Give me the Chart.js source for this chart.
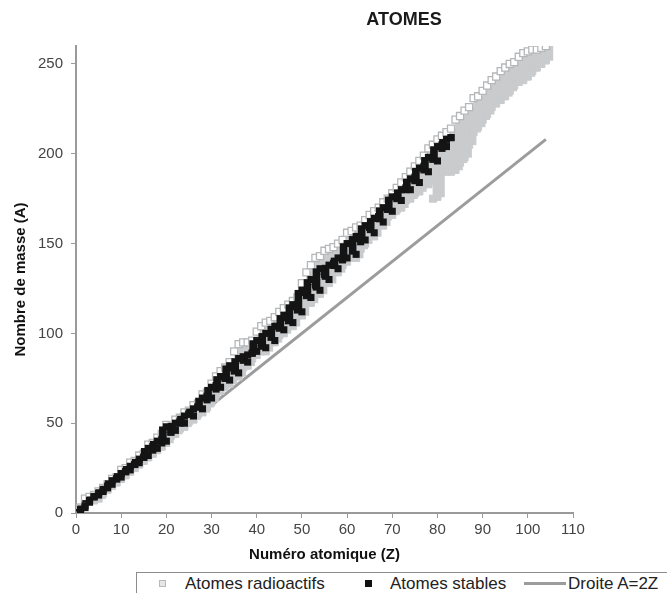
<!DOCTYPE html>
<html>
<head>
<meta charset="utf-8">
<script src="https://cdn.jsdelivr.net/npm/chart.js@4/dist/chart.umd.min.js"></script>
<style>
  html, body { margin: 0; padding: 0; background: #fff; overflow: hidden; }
  #wrap { position: relative; width: 667px; height: 593px; }
  #legend { position: absolute; left: 136px; top: 572px; width: 560px; height: 40px; border: 1px solid #8c8c8c; background: #fff;
            font-family: "Liberation Sans", Arial, sans-serif; font-size: 17px; color: #222; }
  #legend span { position: absolute; top: 1px; line-height: 20px; white-space: nowrap; }
  .sq1 { position: absolute; left: 22px; top: 7px; width: 5px; height: 5px; border: 1px solid #b8b8b8; background: #e6e6e6; }
  .sq2 { position: absolute; left: 228px; top: 7px; width: 7px; height: 7px; background: #111; }
  .ln  { position: absolute; left: 387px; top: 9px; width: 42px; height: 3px; background: #9c9c9c; }
</style>
</head>
<body>
<div id="wrap">
  <canvas id="c" width="667" height="593"></canvas>
  <div id="legend">
    <div class="sq1"></div><span style="left:48px">Atomes radioactifs</span>
    <div class="sq2"></div><span style="left:253px">Atomes stables</span>
    <div class="ln"></div><span style="left:431px">Droite A=2Z</span>
  </div>
</div>
<script>
// Atomic numbers (Z)
const atomicNumbers = [
  1,2,3,4,5,6,7,8,9,10,
  11,12,13,14,15,16,17,18,19,20,
  21,22,23,24,25,26,27,28,29,30,
  31,32,33,34,35,36,37,38,39,40,
  41,42,43,44,45,46,47,48,49,50,
  51,52,53,54,55,56,57,58,59,60,
  61,62,63,64,65,66,67,68,69,70,
  71,72,73,74,75,76,77,78,79,80,
  81,82,83,84,85,86,87,88,89,90,
  91,92,93,94,95,96,97,98,99,100,
  101,102,103,104
];
// Stable atoms: lowest and highest mass number (A) per Z (null = none)
const stableMin = [
  1,3,6,9,10,12,14,16,19,20,
  23,24,27,28,31,32,35,36,39,40,
  45,46,50,50,55,54,59,58,63,64,
  69,70,75,74,79,78,85,84,89,90,
  93,92,null,96,103,102,107,106,113,112,
  121,120,127,124,133,130,138,136,141,142,
  null,144,151,152,159,156,165,162,169,168,
  175,174,180,180,185,184,191,190,197,196,
  203,204,209,null,null,null,null,null,null,null,
  null,null,null,null,null,null,null,null,null,null,
  null,null,null,null
];
const stableMax = [
  2,4,7,9,11,13,15,18,19,22,
  23,26,27,30,31,36,37,40,41,48,
  45,50,51,54,55,58,59,64,65,70,
  71,76,75,82,81,86,87,88,89,96,
  93,100,null,104,103,110,109,116,115,124,
  123,130,127,136,133,138,139,142,141,150,
  null,154,153,160,159,164,165,170,169,176,
  176,180,181,186,187,192,193,198,197,204,
  205,208,209,null,null,null,null,null,null,null,
  null,null,null,null,null,null,null,null,null,null,
  null,null,null,null
];
// Radioactive atoms: lowest and highest mass number (A) per Z
const radioMin = [
  3,6,8,7,8,11,13,15,17,19,
  21,23,25,27,29,31,33,35,37,39,
  43,44,47,48,51,52,55,56,59,62,
  66,68,71,72,76,76,81,82,86,88,
  90,90,95,95,99,100,104,104,110,110,
  117,117,123,122,129,128,135,134,138,140,
  143,142,147,150,155,154,161,160,165,166,
  169,170,174,175,178,179,183,183,175,176,
  190,190,190,191,195,198,205,212,215,219,
  222,226,228,230,232,235,238,240,241,243,
  246,248,250,252
];
const radioMax = [
  3,8,9,10,12,14,16,19,20,24,
  25,28,29,32,33,38,39,42,44,49,
  48,52,53,56,57,60,61,66,67,72,
  76,79,81,84,90,94,95,95,96,101,
  104,106,107,109,112,114,116,118,120,128,
  134,138,142,143,146,147,148,150,152,156,
  157,159,160,163,166,168,170,173,175,178,
  181,184,187,190,193,196,199,203,205,208,
  210,212,214,219,221,224,226,231,232,235,
  238,241,243,246,248,250,251,254,256,257,
  258,258,259,260
];
// Line A = 2Z (end points)
const lineZ = [0, 104];
const lineA = [0, 208];

const xTicks = [0,10,20,30,40,50,60,70,80,90,100,110];
const yTicks = [0,50,100,150,200,250];

const radioBars = atomicNumbers.map((z,i) => ({x: z, y: [radioMin[i], radioMax[i]]}));
const radioLow  = atomicNumbers.map((z,i) => ({x: z, y: radioMin[i]}));
const radioHigh = atomicNumbers.map((z,i) => ({x: z, y: radioMax[i]}));
const stableBars = atomicNumbers.map((z,i) => ({x: z, y: [stableMin[i], stableMax[i]]})).filter((d,i) => stableMin[i] !== null);
const stableEnds = [];
atomicNumbers.forEach((z,i) => {
  if (stableMin[i] !== null) { stableEnds.push({x: z, y: stableMin[i]}); stableEnds.push({x: z, y: stableMax[i]}); }
});
const lineData = lineZ.map((z,i) => ({x: z, y: lineA[i]}));

const GRAY = '#c9cbcd';
const FONT = '"Liberation Sans", Arial, sans-serif';
const titlePlugin = {
  id: 'titleText',
  afterDraw(chart) {
    const ctx = chart.ctx;
    ctx.save();
    ctx.font = 'bold 18px ' + FONT;
    ctx.fillStyle = '#1a1a1a';
    ctx.textAlign = 'center';
    ctx.textBaseline = 'middle';
    ctx.fillText('ATOMES', 404, 20);
    ctx.restore();
  }
};

new Chart(document.getElementById('c'), {
  type: 'bar',
  data: {
    datasets: [
      { type: 'line', label: 'Droite A=2Z', data: lineData, borderColor: '#9c9c9c', borderWidth: 3, pointRadius: 0, order: 6 },
      { type: 'bar', label: 'radio', data: radioBars, backgroundColor: GRAY, borderWidth: 0, barThickness: 7, order: 5 },
      { type: 'scatter', label: 'radioLow', data: radioLow, pointStyle: 'rect', pointRadius: 5, backgroundColor: GRAY, borderColor: GRAY, borderWidth: 1, order: 4 },
      { type: 'scatter', label: 'Atomes radioactifs', data: radioHigh, pointStyle: 'rect', pointRadius: 5, backgroundColor: '#ffffff', borderColor: '#b4b6b8', borderWidth: 1.3, order: 3 },
      { type: 'bar', label: 'stable', data: stableBars, backgroundColor: '#141414', borderWidth: 0, barThickness: 7, order: 2 },
      { type: 'scatter', label: 'Atomes stables', data: stableEnds, pointStyle: 'rect', pointRadius: 5, backgroundColor: '#141414', borderColor: '#141414', borderWidth: 0, order: 1 }
    ]
  },
  options: {
    responsive: false,
    animation: false,
    devicePixelRatio: 1,
    layout: { padding: { top: 46, right: 94, bottom: 0, left: 0 } },
    plugins: { legend: { display: false }, tooltip: { enabled: false }, title: { display: false } },
    scales: {
      x: {
        type: 'linear', min: 0, max: 110, offset: false,
        afterBuildTicks: s => { s.ticks = xTicks.map(v => ({value: v})); },
        afterFit: s => { s.height = 80; },
        ticks: { font: { family: FONT, size: 15 }, color: '#444', padding: 3, maxRotation: 0 },
        grid: { display: true, drawOnChartArea: false, drawTicks: true, tickLength: 5, color: '#9a9a9a', offset: false },
        border: { display: true, color: '#9a9a9a', width: 2 },
        title: { display: true, text: 'Numéro atomique (Z)', color: '#111', font: { family: FONT, size: 15, weight: 'bold' }, padding: { top: 0, bottom: 29 } }
      },
      y: {
        type: 'linear', min: 0, max: 260,
        afterBuildTicks: s => { s.ticks = yTicks.map(v => ({value: v})); },
        afterFit: s => { s.width = 76; },
        ticks: { font: { family: FONT, size: 15 }, color: '#444', padding: 8 },
        grid: { display: true, drawOnChartArea: false, drawTicks: true, tickLength: 5, color: '#9a9a9a' },
        border: { display: true, color: '#9a9a9a', width: 2 },
        title: { display: true, text: 'Nombre de masse (A)', color: '#111', font: { family: FONT, size: 15, weight: 'bold' }, padding: { top: 12, bottom: 0 } }
      }
    }
  },
  plugins: [titlePlugin]
});
</script>
</body>
</html>
